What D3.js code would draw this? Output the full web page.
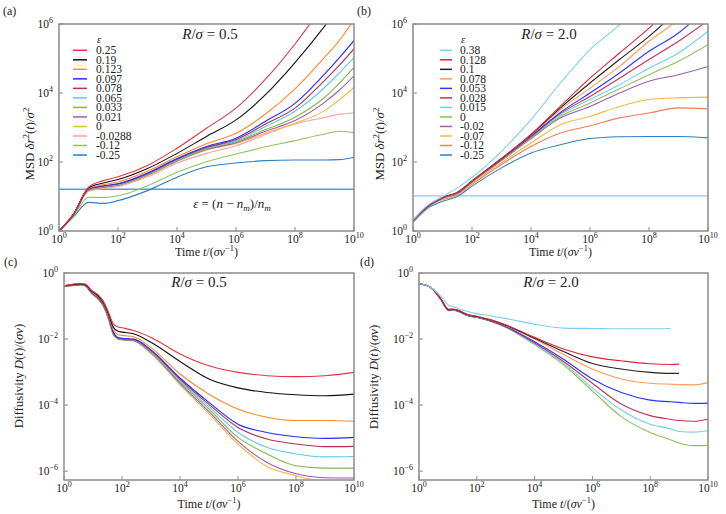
<!DOCTYPE html>
<html>
<head>
<meta charset="utf-8">
<script src="https://cdn.jsdelivr.net/npm/d3@7"></script>
<style>
body { margin: 0; background: #fff; }
svg text { font-family: 'Liberation Serif', 'DejaVu Serif', serif; fill: #222; }
</style>
</head>
<body>
<svg id="fig" width="726" height="514" font-family="Liberation Serif, DejaVu Serif, serif"></svg>
<script>
// all series are stored as log10 values
// (a) MSD, R/sigma = 0.5
var tA = [0, 0.5, 1, 1.5, 2, 3, 4, 5, 6, 7, 8, 9, 9.5, 10];
var epsA = ['0.25', '0.19', '0.123', '0.097', '0.078', '0.065', '0.033', '0.021', '0', '-0.0288', '-0.12', '-0.25'];
var msdA = [
    [0, 0.50, 1.27, 1.46, 1.57, 1.90, 2.40, 2.98, 3.56, 4.40, 5.42, 6.60, 7.20, 7.80],
    [0, 0.50, 1.25, 1.39, 1.49, 1.81, 2.25, 2.74, 3.22, 3.95, 4.88, 5.93, 6.50, 7.00],
    [0, 0.50, 1.23, 1.34, 1.42, 1.73, 2.15, 2.53, 2.83, 3.39, 4.12, 5.03, 5.52, 6.12],
    [0, 0.49, 1.22, 1.31, 1.37, 1.68, 2.10, 2.45, 2.69, 3.18, 3.70, 4.55, 5.02, 5.52],
    [0, 0.49, 1.21, 1.30, 1.36, 1.66, 2.08, 2.42, 2.65, 3.10, 3.56, 4.36, 4.80, 5.28],
    [0, 0.49, 1.21, 1.29, 1.35, 1.65, 2.06, 2.40, 2.62, 3.03, 3.47, 4.16, 4.58, 5.03],
    [0, 0.48, 1.20, 1.28, 1.34, 1.63, 2.04, 2.38, 2.59, 2.94, 3.30, 3.87, 4.28, 4.74],
    [0, 0.48, 1.19, 1.27, 1.33, 1.62, 2.03, 2.36, 2.56, 2.89, 3.20, 3.73, 4.08, 4.50],
    [0, 0.48, 1.18, 1.26, 1.32, 1.61, 2.02, 2.35, 2.54, 2.84, 3.12, 3.49, 3.80, 4.16],
    [0, 0.47, 1.15, 1.23, 1.29, 1.57, 1.97, 2.25, 2.47, 2.80, 3.10, 3.29, 3.38, 3.42],
    [0, 0.45, 0.98, 0.97, 1.02, 1.31, 1.70, 2.01, 2.23, 2.44, 2.62, 2.81, 2.89, 2.85],
    [0, 0.42, 0.83, 0.80, 0.88, 1.17, 1.56, 1.86, 1.97, 2.04, 2.06, 2.06, 2.07, 2.14]
];
var hLineA = 1.21;

// (b) MSD, R/sigma = 2.0
var tB = [0, 0.5, 1, 1.5, 2, 3, 4, 5, 6, 7, 8, 9, 10];
var epsB = ['0.38', '0.128', '0.1', '0.078', '0.053', '0.028', '0.015', '0', '-0.02', '-0.07', '-0.12', '-0.25'];
var msdB = [
    [0.32, 0.75, 1.00, 1.25, 1.55, 2.31, 3.23, 4.29, 5.26, 5.98, 6.90, 7.80, 8.70],
    [0.30, 0.72, 0.97, 1.12, 1.45, 2.10, 2.80, 3.62, 4.43, 5.16, 5.88, 6.70, 7.50],
    [0.30, 0.72, 0.97, 1.12, 1.45, 2.10, 2.79, 3.57, 4.29, 4.97, 5.64, 6.40, 7.10],
    [0.30, 0.72, 0.97, 1.11, 1.44, 2.09, 2.77, 3.52, 4.14, 4.77, 5.50, 6.12, 6.80],
    [0.29, 0.71, 0.96, 1.10, 1.44, 2.08, 2.75, 3.44, 4.00, 4.58, 5.21, 5.74, 6.50],
    [0.29, 0.71, 0.96, 1.10, 1.43, 2.07, 2.73, 3.41, 3.90, 4.43, 4.97, 5.50, 6.10],
    [0.28, 0.70, 0.95, 1.09, 1.43, 2.06, 2.72, 3.37, 3.81, 4.24, 4.72, 5.16, 5.79],
    [0.28, 0.70, 0.95, 1.09, 1.42, 2.05, 2.70, 3.32, 3.71, 4.12, 4.53, 4.92, 5.40],
    [0.28, 0.70, 0.95, 1.08, 1.42, 2.04, 2.68, 3.28, 3.61, 4.00, 4.34, 4.53, 4.77],
    [0.27, 0.69, 0.93, 1.05, 1.38, 1.98, 2.55, 3.08, 3.32, 3.61, 3.81, 3.86, 3.88],
    [0.26, 0.68, 0.91, 1.03, 1.35, 1.93, 2.45, 2.84, 3.05, 3.28, 3.42, 3.57, 3.54],
    [0.25, 0.66, 0.86, 1.00, 1.30, 1.83, 2.26, 2.50, 2.68, 2.73, 2.74, 2.74, 2.70]
];
var hLineB = 1.02;

// (c) diffusivity, R/sigma = 0.5 (first nine epsilons of (a))
var tC = [0, 0.6, 0.75, 0.95, 1.18, 1.36, 1.53, 1.7, 1.85, 2, 2.4, 3, 4, 5, 6, 7, 8, 9, 10];
var diffC = [
    [-0.39, -0.32, -0.34, -0.52, -0.66, -0.86, -1.18, -1.54, -1.63, -1.66, -1.74, -1.95, -2.45, -2.81, -3.01, -3.11, -3.14, -3.11, -3.01],
    [-0.39, -0.33, -0.36, -0.55, -0.70, -0.90, -1.23, -1.64, -1.76, -1.79, -1.84, -2.10, -2.68, -3.21, -3.48, -3.62, -3.69, -3.72, -3.67],
    [-0.40, -0.34, -0.37, -0.57, -0.73, -0.93, -1.27, -1.72, -1.86, -1.89, -1.93, -2.26, -3.06, -3.67, -4.12, -4.37, -4.47, -4.47, -4.49],
    [-0.40, -0.34, -0.38, -0.58, -0.75, -0.95, -1.30, -1.78, -1.95, -1.98, -2.00, -2.33, -3.18, -3.92, -4.58, -4.83, -4.96, -5.01, -4.98],
    [-0.40, -0.35, -0.38, -0.59, -0.76, -0.96, -1.31, -1.80, -1.96, -1.99, -2.01, -2.35, -3.22, -3.98, -4.68, -5.03, -5.18, -5.26, -5.25],
    [-0.40, -0.35, -0.39, -0.60, -0.77, -0.97, -1.33, -1.82, -1.97, -2.00, -2.02, -2.37, -3.26, -4.05, -4.83, -5.28, -5.48, -5.57, -5.56],
    [-0.41, -0.35, -0.39, -0.61, -0.78, -0.99, -1.35, -1.84, -1.98, -2.01, -2.03, -2.39, -3.30, -4.12, -4.98, -5.48, -5.84, -5.91, -5.91],
    [-0.41, -0.36, -0.40, -0.62, -0.79, -1.00, -1.37, -1.86, -1.99, -2.02, -2.05, -2.41, -3.34, -4.20, -5.10, -5.74, -6.08, -6.20, -6.21],
    [-0.41, -0.36, -0.40, -0.63, -0.80, -1.02, -1.40, -1.88, -2.00, -2.03, -2.06, -2.44, -3.38, -4.27, -5.18, -5.86, -6.14, -6.35, -6.55]
];

// (d) diffusivity, R/sigma = 2.0 (first eight epsilons of (b)), null = no data
var tD = [0, 0.45, 0.75, 1.03, 1.14, 1.37, 1.66, 2, 2.5, 3, 4, 5, 6, 7, 8, 8.7, 9, 9.5, 10];
var diffD = [
    [-0.32, -0.46, -0.70, -0.98, -1.01, -1.08, -1.16, -1.23, -1.30, -1.38, -1.55, -1.67, -1.68, -1.69, -1.69, -1.68, null, null, null],
    [-0.32, -0.47, -0.78, -1.10, -1.09, -1.13, -1.25, -1.31, -1.42, -1.57, -1.95, -2.30, -2.54, -2.66, -2.75, -2.77, -2.76, null, null],
    [-0.32, -0.47, -0.78, -1.11, -1.10, -1.14, -1.26, -1.32, -1.43, -1.58, -1.98, -2.38, -2.74, -2.91, -3.01, -3.04, -3.04, null, null],
    [-0.32, -0.47, -0.78, -1.12, -1.11, -1.15, -1.27, -1.33, -1.44, -1.60, -2.00, -2.47, -2.91, -3.21, -3.34, -3.37, -3.38, -3.39, -3.32],
    [-0.32, -0.47, -0.79, -1.13, -1.12, -1.16, -1.28, -1.34, -1.45, -1.62, -2.08, -2.61, -3.21, -3.62, -3.85, -3.90, -3.92, -3.95, -3.94],
    [-0.32, -0.47, -0.79, -1.13, -1.12, -1.16, -1.28, -1.34, -1.46, -1.63, -2.12, -2.68, -3.34, -3.97, -4.32, -4.43, -4.47, -4.49, -4.42],
    [-0.32, -0.47, -0.79, -1.14, -1.13, -1.17, -1.29, -1.35, -1.47, -1.64, -2.15, -2.73, -3.48, -4.15, -4.58, -4.72, -4.80, -4.82, -4.78],
    [-0.32, -0.47, -0.80, -1.14, -1.13, -1.17, -1.29, -1.35, -1.47, -1.65, -2.17, -2.78, -3.57, -4.35, -4.83, -5.05, -5.15, -5.23, -5.22]
];

var xTicks = [0, 2, 4, 6, 8, 10];
var yTicksMsd = [0, 2, 4, 6];
var yTicksDiff = [0, -2, -4, -6];

var colA = ['#e3343f', '#111111', '#ff8a2a', '#2a2aff', '#b5304d', '#5ec8f2', '#7fba45', '#9b5bb6', '#f3b53d', '#f8a0a0', '#93c45a', '#2f7fc4'];
var colB = ['#7dd0f2', '#d6283a', '#222222', '#ff9c55', '#2a36ff', '#c23552', '#74cdf4', '#8cc257', '#9b5db8', '#f2b940', '#f07e5a', '#2f80c2'];

var FONT = "'Liberation Serif', 'DejaVu Serif', serif";
var svg = d3.select('#fig');
var clipCount = 0;

// text with italic / super / subscript pieces: parts = [[str, kind], ...]
function rich(t, parts, size) {
    var shift = 0;
    parts.forEach(function(p) {
        var kind = p[1] || '';
        var target = kind.indexOf('sup') >= 0 ? -0.42 : (kind.indexOf('sub') >= 0 ? 0.25 : 0);
        var s = t.append('tspan').text(p[0]).attr('font-family', FONT);
        if (target !== shift) s.attr('dy', ((target - shift) * size).toFixed(2));
        if (target !== 0) s.attr('font-size', size * 0.7);
        if (kind.indexOf('i') >= 0) s.attr('font-style', 'italic');
        shift = target;
    });
    return t;
}

function label(x, y, parts, size, anchor) {
    var t = svg.append('text').attr('x', x).attr('y', y)
        .attr('font-family', FONT)
        .attr('font-size', size).attr('text-anchor', anchor || 'middle');
    return rich(t, parts, size);
}

function power(e) {
    return [['10', ''], [String(e).replace('-', '\u2212'), 'sup']];
}

function drawPanel(cfg) {
    var x = d3.scaleLog().domain([1, 1e10]).range([cfg.left, cfg.right]);
    var y = d3.scaleLog().domain(cfg.yDomain).range([cfg.bottom, cfg.top]);
    var id = 'clip' + (clipCount++);

    svg.append('clipPath').attr('id', id).append('rect')
        .attr('x', cfg.left).attr('y', cfg.top)
        .attr('width', cfg.right - cfg.left).attr('height', cfg.bottom - cfg.top);

    var g = svg.append('g').attr('clip-path', 'url(#' + id + ')');

    if (cfg.hLine !== undefined) {
        g.append('line')
            .attr('x1', cfg.left).attr('x2', cfg.right)
            .attr('y1', y(Math.pow(10, cfg.hLine))).attr('y2', y(Math.pow(10, cfg.hLine)))
            .attr('stroke', cfg.hColor).attr('stroke-width', 1.3);
    }

    var line = d3.line()
        .defined(function(d) { return d[1] !== null; })
        .x(function(d) { return x(Math.pow(10, d[0])); })
        .y(function(d) { return y(Math.pow(10, d[1])); })
        .curve(d3.curveMonotoneX);

    // draw last series first so the legend's top entries sit on top
    for (var i = cfg.series.length - 1; i >= 0; i--) {
        var pts = cfg.t.map(function(tv, k) { return [tv, cfg.series[i][k]]; });
        g.append('path').attr('d', line(pts))
            .attr('fill', 'none').attr('stroke', cfg.colors[i]).attr('stroke-width', 1.1);
    }

    svg.append('rect')
        .attr('x', cfg.left).attr('y', cfg.top)
        .attr('width', cfg.right - cfg.left).attr('height', cfg.bottom - cfg.top)
        .attr('fill', 'none').attr('stroke', '#8a8a8a').attr('stroke-width', 1.5);

    xTicks.forEach(function(e) {
        var px = x(Math.pow(10, e));
        svg.append('line').attr('x1', px).attr('x2', px)
            .attr('y1', cfg.bottom).attr('y2', cfg.bottom - 4)
            .attr('stroke', '#8a8a8a');
        label(px, cfg.bottom + 11.5, power(e), 11.5);
    });
    cfg.yTicks.forEach(function(e) {
        var py = y(Math.pow(10, e));
        svg.append('line').attr('x1', cfg.left).attr('x2', cfg.left + 4)
            .attr('y1', py).attr('y2', py)
            .attr('stroke', '#8a8a8a');
        label(cfg.left - 6, py + 4, power(e), 11.5, 'end');
    });

    label(cfg.titleX, cfg.titleY, [['R', 'i'], ['/', ''], ['\u03c3', 'i'], [' = ' + cfg.ratio, '']], 15);
    label(cfg.letterX, cfg.letterY, [['(' + cfg.letter + ')', '']], 12, 'start');
    label((cfg.left + cfg.right) / 2, cfg.xLabelY,
        [['Time ', ''], ['t', 'i'], ['/(', ''], ['\u03c3v', 'i'], ['\u22121', 'sup'], [')', '']], 12);

    var yl = svg.append('text')
        .attr('transform', 'translate(' + cfg.yLabelX + ',' + cfg.yLabelY + ') rotate(-90)')
        .attr('font-family', FONT)
        .attr('font-size', 12.8).attr('text-anchor', 'middle');
    rich(yl, cfg.yLabel, 12.8);

    if (cfg.legend) {
        var lg = cfg.legend;
        label(lg.textX + 1, lg.y0 - 7, [['\u03b5', 'i']], 10.5, 'start');
        cfg.legendNames.forEach(function(name, k) {
            var ry = lg.y0 + k * 9.52;
            svg.append('line').attr('x1', lg.x1).attr('x2', lg.x2)
                .attr('y1', ry).attr('y2', ry)
                .attr('stroke', cfg.colors[k]).attr('stroke-width', 1.5);
            label(lg.textX, ry + 3.8, [[name, '']], 11.5, 'start');
        });
    }
    return { x: x, y: y };
}

var msdLabel = [['MSD ', ''], ['\u03b4r', 'i'], ['2', 'sup'], ['(', ''], ['t', 'i'], [')/', ''], ['\u03c3', 'i'], ['2', 'sup']];
var diffLabel = [['Diffusivity ', ''], ['D', 'i'], ['(', ''], ['t', 'i'], [')/(', ''], ['\u03c3v', 'i'], [')', '']];

drawPanel({
    left: 59, right: 354, top: 24, bottom: 231, yDomain: [1, 1e6], yTicks: yTicksMsd,
    t: tA, series: msdA, colors: colA, legendNames: epsA,
    legend: { x1: 73, x2: 87, textX: 96, y0: 50.3 },
    hLine: hLineA, hColor: '#4f9fd8',
    ratio: '0.5', titleX: 210, titleY: 39, letter: 'a', letterX: 3, letterY: 15,
    xLabelY: 256, yLabel: msdLabel, yLabelX: 34, yLabelY: 144
});
label(232, 208, [['\u03b5', 'i'], [' = (', ''], ['n', 'i'], [' \u2212 ', ''], ['n', 'i'], ['m', 'subi'],
    [')/', ''], ['n', 'i'], ['m', 'subi']], 13);

drawPanel({
    left: 413, right: 708, top: 24, bottom: 231, yDomain: [1, 1e6], yTicks: yTicksMsd,
    t: tB, series: msdB, colors: colB, legendNames: epsB,
    legend: { x1: 440, x2: 452, textX: 460, y0: 50.3 },
    hLine: hLineB, hColor: '#8ccbea',
    ratio: '2.0', titleX: 549, titleY: 39, letter: 'b', letterX: 357, letterY: 15,
    xLabelY: 256, yLabel: msdLabel, yLabelX: 384, yLabelY: 144
});

drawPanel({
    left: 64, right: 354, top: 273, bottom: 480, yDomain: [Math.pow(10, -6.27), 1], yTicks: yTicksDiff,
    t: tC, series: diffC, colors: colA.slice(0, diffC.length),
    ratio: '0.5', titleX: 199, titleY: 287, letter: 'c', letterX: 4, letterY: 266,
    xLabelY: 508, yLabel: diffLabel, yLabelX: 23, yLabelY: 376
});

drawPanel({
    left: 419, right: 708, top: 273, bottom: 480, yDomain: [Math.pow(10, -6.27), 1], yTicks: yTicksDiff,
    t: tD, series: diffD, colors: colB.slice(0, diffD.length),
    ratio: '2.0', titleX: 551, titleY: 287, letter: 'd', letterX: 360, letterY: 266,
    xLabelY: 508, yLabel: diffLabel, yLabelX: 378, yLabelY: 377
});
</script>
</body>
</html>
